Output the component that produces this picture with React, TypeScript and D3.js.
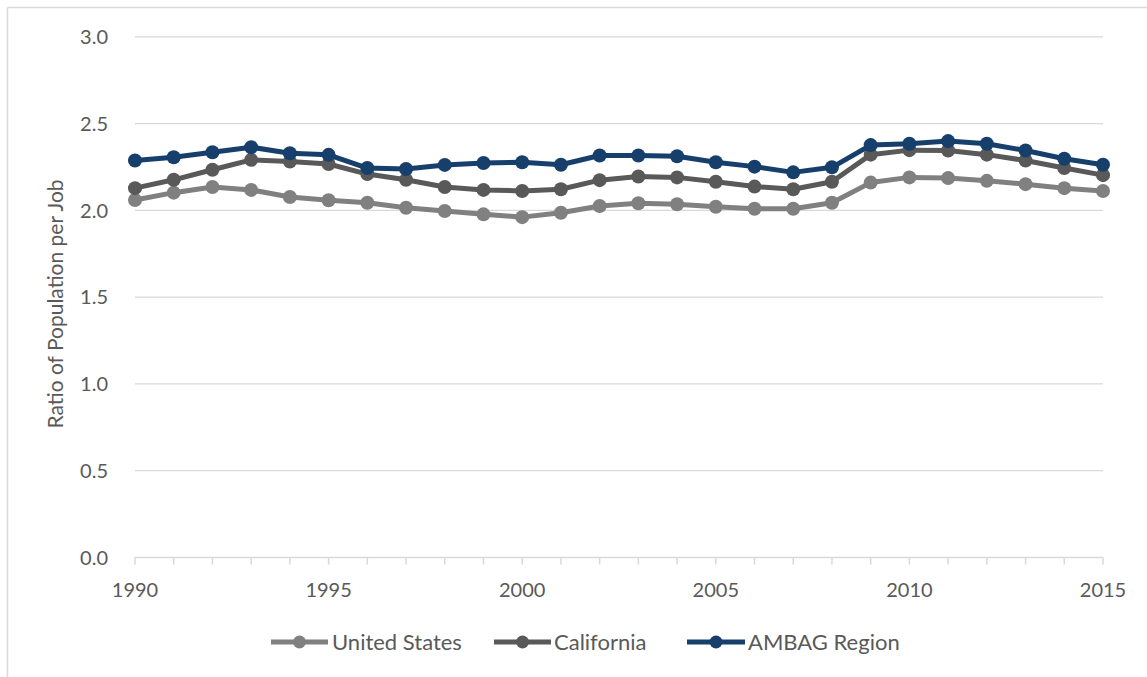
import React from "react";
import * as d3 from "d3";

const years = d3.range(1990, 2016);
const unitedStates = [2.060, 2.102, 2.135, 2.118, 2.077, 2.058, 2.044, 2.015, 1.996, 1.977, 1.961, 1.986, 2.025, 2.041, 2.035, 2.021, 2.009, 2.009, 2.044, 2.160, 2.190, 2.186, 2.170, 2.151, 2.128, 2.112];
const california = [2.128, 2.176, 2.234, 2.291, 2.281, 2.267, 2.209, 2.176, 2.135, 2.118, 2.112, 2.122, 2.174, 2.195, 2.190, 2.165, 2.137, 2.122, 2.165, 2.321, 2.347, 2.345, 2.321, 2.287, 2.244, 2.203];
const ambag = [2.287, 2.306, 2.335, 2.364, 2.329, 2.320, 2.244, 2.238, 2.262, 2.273, 2.277, 2.263, 2.316, 2.316, 2.312, 2.277, 2.252, 2.219, 2.248, 2.376, 2.384, 2.399, 2.384, 2.345, 2.297, 2.263];
const yTicks = [0, 0.5, 1.0, 1.5, 2.0, 2.5, 3.0];
const xTickLabels = [1990, 1995, 2000, 2005, 2010, 2015];

const seriesList = [
  { name: "United States", values: unitedStates, color: "#808080" },
  { name: "California", values: california, color: "#595959" },
  { name: "AMBAG Region", values: ambag, color: "#173F6B" },
];

const FONT = "Lato, 'Open Sans', sans-serif";

export default function App() {
  const W = 1147, H = 677;
  const x = d3.scaleLinear().domain([1990, 2015]).range([135, 1103]);
  const y = d3.scaleLinear().domain([0, 3]).range([557.5, 36.8]);
  const line = d3.line<number>().x((_, i) => x(years[i])).y((d) => y(d));

  const legendItems = [
    { x0: 271, x1: 328, tx: 332 },
    { x0: 494, x1: 551, tx: 554 },
    { x0: 687, x1: 745, tx: 748 },
  ];
  const LY = 642;

  return (
    <svg width={W} height={H} style={{ position: "absolute", left: 0, top: 0 }}>
      <rect x={0} y={0} width={W} height={H} fill="#fff" />
      <line x1={7.5} y1={7.5} x2={W} y2={7.5} stroke="#d9d9d9" strokeWidth={1.5} />
      <line x1={7.5} y1={7.5} x2={7.5} y2={H} stroke="#d9d9d9" strokeWidth={1.5} />
      {yTicks.map((t) => (
        <g key={t}>
          {t > 0 && <line x1={x(1990)} x2={x(2015)} y1={y(t)} y2={y(t)} stroke="#d9d9d9" strokeWidth={1.3} />}
          <text x={108} y={y(t)} dy="0.36em" textAnchor="end" fontFamily={FONT} fontSize={20} fill="#595959">
            {t.toFixed(1)}
          </text>
        </g>
      ))}
      <line x1={x(1990)} x2={x(2015)} y1={y(0)} y2={y(0)} stroke="#d9d9d9" strokeWidth={1.5} />
      {years.map((yr) => (
        <line key={yr} x1={x(yr)} x2={x(yr)} y1={y(0)} y2={y(0) + 7} stroke="#d9d9d9" strokeWidth={1.5} />
      ))}
      {xTickLabels.map((yr) => (
        <text key={yr} x={x(yr)} y={597} textAnchor="middle" fontFamily={FONT} fontSize={20} fill="#595959">
          {yr}
        </text>
      ))}
      <text
        transform={`translate(63,304) rotate(-90)`}
        textAnchor="middle"
        fontFamily={FONT}
        fontSize={21}
        fill="#595959"
      >
        Ratio of Population per Job
      </text>
      {seriesList.map((s) => (
        <g key={s.name}>
          <path d={line(s.values) || ""} fill="none" stroke={s.color} strokeWidth={5} strokeLinejoin="round" />
          {s.values.map((v, i) => (
            <circle key={i} cx={x(years[i])} cy={y(v)} r={7} fill={s.color} />
          ))}
        </g>
      ))}
      {seriesList.map((s, i) => {
        const li = legendItems[i];
        return (
          <g key={s.name}>
            <line x1={li.x0} x2={li.x1} y1={LY} y2={LY} stroke={s.color} strokeWidth={5} />
            <circle cx={(li.x0 + li.x1) / 2} cy={LY} r={6.5} fill={s.color} />
            <text x={li.tx} y={LY} dy="0.36em" fontFamily={FONT} fontSize={22} fill="#595959">
              {s.name}
            </text>
          </g>
        );
      })}
    </svg>
  );
}
